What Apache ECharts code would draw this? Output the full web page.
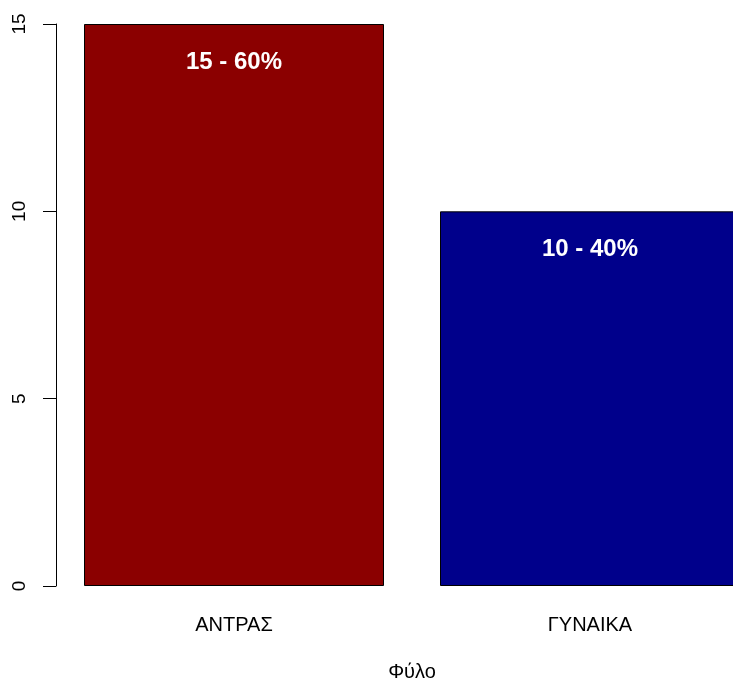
<!DOCTYPE html>
<html>
<head>
<meta charset="utf-8">
<script src="https://cdn.jsdelivr.net/npm/echarts@6/dist/echarts.min.js"></script>
<style>
  html, body { margin: 0; padding: 0; background: #fff; }
  #chart { width: 733px; height: 684px; }
</style>
</head>
<body>
<div id="chart"></div>
<script>
const categories = ['ΑΝΤΡΑΣ', 'ΓΥΝΑΙΚΑ']
const counts = [15, 10]
const percents = ['60%', '40%']
const barColors = ['#8b0000', '#00008b']
const yTicks = [0, 5, 10, 15]

const font = '"Liberation Sans", Arial, sans-serif'

const chart = echarts.init(document.getElementById('chart'))

// the R plot region runs past the right edge of the picture, so the grid does too
chart.setOption({
  animation: false,
  backgroundColor: '#ffffff',
  grid: { left: 56, top: 24, bottom: 98, right: -35, outerBoundsMode: 'none', containLabel: false },
  xAxis: {
    type: 'category',
    data: categories,
    name: 'Φύλο',
    nameLocation: 'middle',
    nameGap: 76,
    nameTextStyle: { color: '#000', fontSize: 20, fontFamily: font },
    axisLine: { show: false },
    axisTick: { show: false },
    axisLabel: { color: '#000', fontSize: 20, fontFamily: font, margin: 29 }
  },
  yAxis: {
    type: 'value',
    min: 0,
    max: 15,
    interval: 5,
    splitLine: { show: false },
    axisLine: { show: true, lineStyle: { color: '#000', width: 1 } },
    axisTick: { show: true, length: 13, lineStyle: { color: '#000' } },
    axisLabel: {
      color: '#000', fontSize: 19, fontFamily: font, rotate: 90, margin: 27,
      formatter: v => (yTicks.includes(v) ? String(v) : '')
    }
  },
  series: [{
    type: 'bar',
    barWidth: 300,
    data: counts.map((v, i) => ({
      value: v,
      itemStyle: { color: barColors[i], borderColor: '#000', borderWidth: 1 }
    })),
    label: {
      show: true,
      position: 'insideTop',
      distance: 26,
      color: '#fff',
      fontSize: 24,
      fontWeight: 'bold',
      fontFamily: font,
      formatter: p => p.value + ' - ' + percents[p.dataIndex]
    }
  }]
})
</script>
</body>
</html>
